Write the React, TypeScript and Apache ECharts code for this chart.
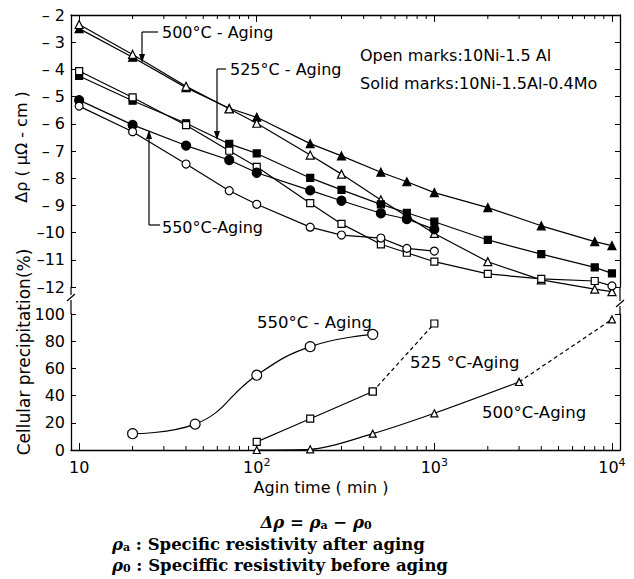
import React, { useEffect, useRef } from "react";
import * as echarts from "echarts";

// ---- data ----
const timesTop = [10, 20, 40, 70, 100, 200, 300, 500, 700, 1000, 2000, 4000, 8000, 10000];
// 500°C aging (triangles)
const openTri500 = [-2.35, -3.45, -4.62, -5.45, -5.98, -7.15, -7.85, -8.8, null, -10.03, -11.07, -11.74, -12.08, -12.17];
const solidTri500 = [-2.5, -3.55, -4.67, -5.43, -5.76, -6.73, -7.18, -7.78, -8.13, -8.53, -9.08, -9.75, -10.33, -10.48];
// 525°C aging (squares)
const openSq525 = [-4.06, -5.03, -6.05, -6.99, -7.58, -8.92, -9.68, -10.43, -10.74, -11.07, -11.52, -11.7, -11.78, -11.96];
const solidSq525 = [-4.24, -5.15, -5.98, -6.74, -7.09, -7.99, -8.43, -8.96, -9.27, -9.6, -10.27, -10.79, -11.28, -11.5];
// 550°C aging (circles)
const openCirc550 = [-5.35, -6.29, -7.48, -8.46, -8.96, -9.8, -10.09, -10.2, -10.58, -10.68];
const solidCirc550 = [-5.13, -6.04, -6.8, -7.33, -7.8, -8.45, -8.83, -9.29, -9.5, -9.88];

// cellular precipitation (%)
const cp550Times = [20, 45, 100, 200, 450];
const cp550Values = [12, 19, 55, 76, 85];
const cp525Times = [100, 200, 450];
const cp525Values = [6, 23, 43];
const cp525DashTimes = [450, 1000];
const cp525DashValues = [43, 93];
const cp500Times = [100, 200, 450, 1000, 3000];
const cp500Values = [0, 0.5, 12, 27, 50];
const cp500DashTimes = [3000, 10000];
const cp500DashValues = [50, 96];

const decadeStarts = [10, 100, 1000];
const minorMultipliers = [2, 3, 4, 5, 6, 7, 8, 9];

const SANS = "'DejaVu Sans', sans-serif";
const SERIF = "'DejaVu Serif', 'Liberation Serif', serif";

function pairs(times: number[], vals: (number | null)[]) {
  const out: any[] = [];
  times.forEach((t, i) => {
    const v = vals[i];
    if (v !== null && v !== undefined) out.push([t, v]);
  });
  return out;
}

export default function App() {
  const ref = useRef<HTMLDivElement>(null);

  useEffect(() => {
    if (!ref.current) return;
    const chart = echarts.init(ref.current, null, { renderer: "svg" });

    const minorTicks: number[] = [];
    decadeStarts.forEach((d) => minorMultipliers.forEach((m) => minorTicks.push(m * d)));

    const black = "#000";
    const lineW = 1.2;

    const logLabel = (v: number) => {
      const e = Math.log10(v);
      const r = Math.round(e);
      if (Math.abs(e - r) > 1e-6) return "";
      if (r === 1) return "{b|10}";
      return "{b|10}{s|" + r + "}";
    };

    const yTopLabel = (v: number) => {
      const a = Math.abs(v);
      return a < 10 ? "– " + a : "–" + a;
    };

    const markerSeries = (
      name: string,
      data: any[],
      symbol: string,
      size: number,
      filled: boolean,
      xIdx: number,
      yIdx: number,
      extra: any = {}
    ) => ({
      name,
      type: "line",
      xAxisIndex: xIdx,
      yAxisIndex: yIdx,
      data,
      symbol,
      symbolSize: size,
      showAllSymbol: true,
      clip: false,
      lineStyle: { color: black, width: lineW },
      itemStyle: { color: filled ? black : "#fff", borderColor: black, borderWidth: 1.2 },
      emphasis: { disabled: true },
      z: 3,
      ...extra,
    });

    const minorTickSeries = (xIdx: number, yIdx: number, yRef: number, dir: number) => ({
      type: "custom",
      coordinateSystem: "cartesian2d",
      xAxisIndex: xIdx,
      yAxisIndex: yIdx,
      silent: true,
      clip: false,
      data: minorTicks.map((t) => [t, yRef]),
      encode: { x: 0, y: 1 },
      renderItem: (params: any, api: any) => {
        const p = api.coord([api.value(0), api.value(1)]);
        return {
          type: "line",
          shape: { x1: p[0], y1: p[1], x2: p[0], y2: p[1] + dir * 4 },
          style: { stroke: black, lineWidth: 1 },
        };
      },
      z: 2,
    });

    const openSqData: any[] = pairs(timesTop, openSq525);
    const last = openSqData[openSqData.length - 1];
    openSqData[openSqData.length - 1] = { value: last, symbol: "circle", symbolSize: 8 };

    const axisLineStyle = { lineStyle: { color: black, width: 1.3 } };

    const txt = (text: string, x: number, y: number, size = 16, extra: any = {}) => ({
      type: "text",
      x,
      y,
      silent: true,
      style: {
        text,
        fill: black,
        font: `${size}px ${SANS}`,
        verticalAlign: "middle",
        align: "left",
        ...extra,
      },
    });

    const ln = (x1: number, y1: number, x2: number, y2: number) => ({
      type: "line",
      silent: true,
      shape: { x1, y1, x2, y2 },
      style: { stroke: black, lineWidth: 1.2 },
    });

    const poly = (points: number[][]) => ({
      type: "polygon",
      silent: true,
      shape: { points },
      style: { fill: black },
    });

    const capRich = {
      i: { font: `italic bold 16.5px ${SERIF}`, color: black },
      sub: { font: `bold 11px ${SERIF}`, color: black, verticalAlign: "bottom" },
      t: { font: `bold 16.5px ${SERIF}`, color: black },
    };

    const option: any = {
      animation: false,
      backgroundColor: "#fff",
      grid: [
        { left: 71, width: 549, top: 15, height: 272 },
        { left: 71, width: 549, top: 314, height: 136 },
      ],
      xAxis: [
        {
          gridIndex: 0,
          type: "log",
          position: "top",
          min: 9,
          max: 11100,
          axisLine: axisLineStyle,
          axisTick: { inside: true, length: 7, lineStyle: { color: black } },
          axisLabel: { show: false },
          splitLine: { show: false },
        },
        {
          gridIndex: 1,
          type: "log",
          position: "bottom",
          min: 9,
          max: 11100,
          axisLine: axisLineStyle,
          axisTick: { inside: true, length: 7, lineStyle: { color: black } },
          axisLabel: {
            margin: 7,
            formatter: logLabel,
            showMinLabel: false,
            showMaxLabel: false,
            rich: {
              b: { fontSize: 16, fontFamily: SANS, color: black, lineHeight: 20 },
              s: { fontSize: 11, fontFamily: SANS, color: black, verticalAlign: "top", lineHeight: 11 },
            },
          },
          splitLine: { show: false },
        },
      ],
      yAxis: [
        {
          gridIndex: 0,
          type: "value",
          position: "left",
          min: -12,
          max: -2,
          interval: 1,
          axisLine: { show: true, ...axisLineStyle },
          axisTick: { inside: true, length: 5, lineStyle: { color: black } },
          axisLabel: { margin: 6, formatter: yTopLabel, fontSize: 16, fontFamily: SANS, color: black },
          splitLine: { show: false },
        },
        {
          gridIndex: 0,
          type: "value",
          position: "right",
          min: -12,
          max: -2,
          interval: 1,
          axisLine: { show: true, ...axisLineStyle },
          axisTick: { inside: true, length: 5, lineStyle: { color: black } },
          axisLabel: { show: false },
          splitLine: { show: false },
        },
        {
          gridIndex: 1,
          type: "value",
          position: "left",
          min: 0,
          max: 100,
          interval: 20,
          axisLine: { show: true, ...axisLineStyle },
          axisTick: { inside: true, length: 5, lineStyle: { color: black } },
          axisLabel: { margin: 6, fontSize: 16, fontFamily: SANS, color: black },
          splitLine: { show: false },
        },
        {
          gridIndex: 1,
          type: "value",
          position: "right",
          min: 0,
          max: 100,
          interval: 20,
          axisLine: { show: true, ...axisLineStyle },
          axisTick: { inside: true, length: 5, lineStyle: { color: black } },
          axisLabel: { show: false },
          splitLine: { show: false },
        },
      ],
      series: [
        markerSeries("solidTri500", pairs(timesTop, solidTri500), "triangle", 8, true, 0, 0),
        markerSeries("openTri500", pairs(timesTop, openTri500), "triangle", 8, false, 0, 0),
        markerSeries("solidSq525", pairs(timesTop, solidSq525), "rect", 7, true, 0, 0),
        markerSeries("openSq525", openSqData, "rect", 7, false, 0, 0),
        markerSeries("solidCirc550", pairs(timesTop, solidCirc550), "circle", 9, true, 0, 0),
        markerSeries("openCirc550", pairs(timesTop, openCirc550), "circle", 8, false, 0, 0),
        markerSeries("cp550", pairs(cp550Times, cp550Values), "circle", 10, false, 1, 2, { smooth: 0.45 }),
        markerSeries("cp525", pairs(cp525Times, cp525Values), "rect", 7, false, 1, 2, { smooth: 0.3 }),
        markerSeries("cp525dash", pairs(cp525DashTimes, cp525DashValues), "rect", 7, false, 1, 2, {
          lineStyle: { color: black, width: lineW, type: [4, 3] },
        }),
        markerSeries("cp500", pairs(cp500Times, cp500Values), "triangle", 7, false, 1, 2, { smooth: 0.3 }),
        markerSeries("cp500dash", pairs(cp500DashTimes, cp500DashValues), "triangle", 7, false, 1, 2, {
          lineStyle: { color: black, width: lineW, type: [4, 3] },
        }),
        minorTickSeries(0, 0, -2, 1),
        minorTickSeries(1, 2, 0, -1),
      ],
      graphic: [
        // frame continuation across the axis break
        ln(71, 287, 71, 295),
        ln(71, 300, 71, 314),
        ln(67, 301, 75, 294),
        ln(620, 287, 620, 301),
        ln(620, 306, 620, 314),
        ln(616, 307, 624, 300),
        // axis titles
        {
          type: "text",
          x: 21,
          y: 147,
          rotation: Math.PI / 2,
          silent: true,
          style: {
            text: "Δρ ( μΩ - cm )",
            fill: black,
            font: `16px ${SANS}`,
            align: "center",
            verticalAlign: "middle",
          },
        },
        {
          type: "text",
          x: 24,
          y: 352,
          rotation: Math.PI / 2,
          silent: true,
          style: {
            text: "Cellular precipitation(%)",
            fill: black,
            font: `17px ${SANS}`,
            align: "center",
            verticalAlign: "middle",
          },
        },
        txt("Agin time ( min )", 321, 487, 16, { align: "center" }),
        // top plot annotations
        txt("500°C - Aging", 162, 32),
        ln(142, 32, 158, 32),
        ln(142, 32, 142, 57),
        poly([[139, 54], [145, 54], [142, 63]]),
        txt("525°C - Aging", 230, 69),
        ln(217, 69, 226, 69),
        ln(217, 69, 217, 134),
        poly([[214, 131], [220, 131], [217, 140]]),
        txt("550°C-Aging", 162, 227),
        ln(149, 225, 160, 225),
        ln(149, 225, 149, 137),
        poly([[146, 139], [152, 139], [149, 130]]),
        txt("Open marks:10Ni-1.5 Al", 360, 55, 16),
        txt("Solid marks:10Ni-1.5Al-0.4Mo", 360, 83, 16),
        // bottom plot annotations
        txt("550°C - Aging", 257, 322, 16.5),
        txt("525 °C-Aging", 410, 362, 16.5),
        txt("500°C-Aging", 482, 412, 16.5),
        // caption
        {
          type: "text",
          x: 316,
          y: 522,
          silent: true,
          style: {
            text: "{i|Δρ = ρ}{sub|a}{i| − ρ}{sub|0}",
            align: "center",
            verticalAlign: "middle",
            rich: capRich,
          },
        },
        {
          type: "text",
          x: 112,
          y: 544,
          silent: true,
          style: {
            text: "{i|ρ}{sub|a}{t| : Specific resistivity after aging}",
            align: "left",
            verticalAlign: "middle",
            rich: capRich,
          },
        },
        {
          type: "text",
          x: 112,
          y: 565,
          silent: true,
          style: {
            text: "{i|ρ}{sub|0}{t| : Speciffic resistivity before aging}",
            align: "left",
            verticalAlign: "middle",
            rich: capRich,
          },
        },
      ],
    };

    chart.setOption(option);
    return () => chart.dispose();
  }, []);

  return (
    <div
      ref={ref}
      style={{ position: "fixed", left: 0, top: 0, width: 634, height: 579, background: "#fff" }}
    />
  );
}
